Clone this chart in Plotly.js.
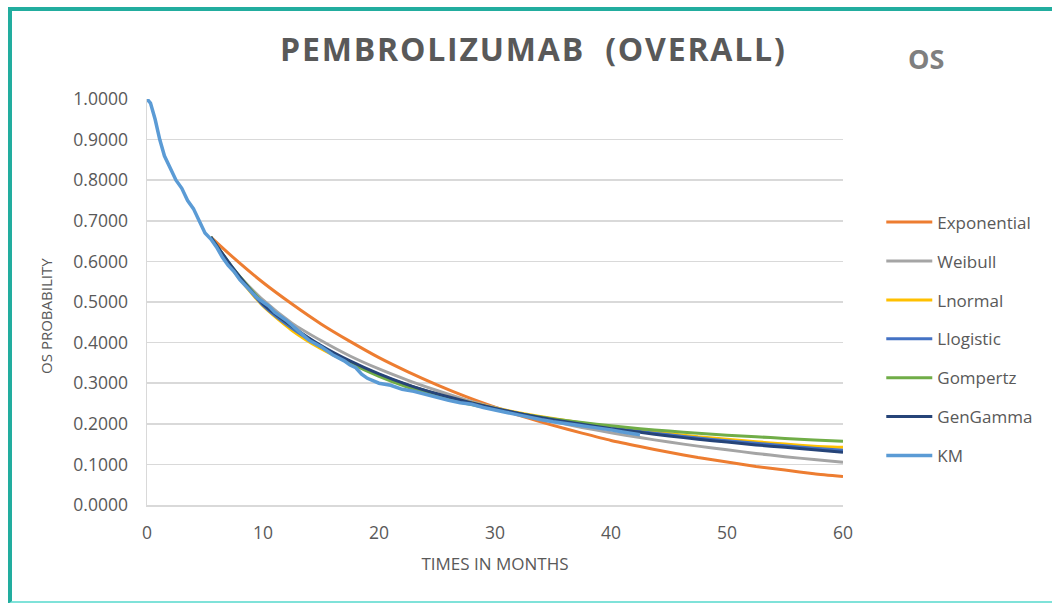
<!DOCTYPE html>
<html>
<head>
<meta charset="utf-8">
<script src="https://cdn.plot.ly/plotly-3.0.1.min.js"></script>
<style>
  html, body { margin:0; padding:0; background:#ffffff; overflow:hidden; }
  #frame { position:absolute; left:8px; top:7px; width:1060px; height:590px;
           border-top:4px solid #22ad9f; border-left:4px solid #22ad9f;
           border-bottom:3px solid #7fe2d9; box-sizing:content-box; }
  #chart { position:absolute; left:0; top:0; width:1052px; height:603px; }
</style>
</head>
<body>
<div id="frame"></div>
<div id="chart"></div>
<script>
// ---- data ----
var modelMonths = [5.5, 7.5, 10, 12.5, 15, 17.5, 20, 22.5, 25, 27.5, 30, 32.5, 35, 37.5, 40, 42.5, 45, 47.5, 50, 52.5, 55, 57.5, 60];

var exponential = [0.660, 0.608, 0.548, 0.495, 0.446, 0.403, 0.363, 0.328, 0.296, 0.267, 0.241, 0.217, 0.196, 0.177, 0.159, 0.144, 0.130, 0.117, 0.106, 0.095, 0.086, 0.077, 0.070];
var weibull     = [0.660, 0.578, 0.505, 0.448, 0.405, 0.367, 0.335, 0.307, 0.282, 0.259, 0.240, 0.222, 0.206, 0.191, 0.178, 0.166, 0.155, 0.145, 0.136, 0.127, 0.119, 0.112, 0.105];
var lnormal     = [0.660, 0.575, 0.490, 0.430, 0.385, 0.350, 0.320, 0.295, 0.273, 0.255, 0.239, 0.225, 0.213, 0.202, 0.192, 0.184, 0.176, 0.168, 0.162, 0.156, 0.150, 0.145, 0.142];
var llogistic   = [0.660, 0.577, 0.492, 0.435, 0.389, 0.352, 0.321, 0.295, 0.273, 0.254, 0.238, 0.223, 0.211, 0.200, 0.190, 0.181, 0.173, 0.165, 0.158, 0.152, 0.146, 0.140, 0.135];
var gompertz    = [0.660, 0.580, 0.498, 0.440, 0.390, 0.350, 0.317, 0.290, 0.268, 0.250, 0.236, 0.223, 0.212, 0.203, 0.195, 0.188, 0.182, 0.177, 0.172, 0.168, 0.164, 0.160, 0.157];
var genGamma    = [0.660, 0.580, 0.495, 0.440, 0.393, 0.355, 0.323, 0.296, 0.274, 0.255, 0.238, 0.223, 0.210, 0.199, 0.188, 0.179, 0.170, 0.162, 0.155, 0.148, 0.142, 0.136, 0.130];

var kmMonths = [0, 0.3, 0.7, 1.1, 1.5, 2.0, 2.5, 3.0, 3.5, 4.0, 4.5, 5.0, 5.5, 6.0, 6.5, 7.0, 7.5, 8.0, 8.5, 9.0, 9.5, 10, 10.5, 11, 12, 13, 14, 15, 16, 17, 17.5, 18, 18.5, 19, 19.5, 20, 21, 22, 23, 24, 25, 26, 27, 28, 29, 30, 31, 32, 33, 34, 35, 36, 37, 38, 39, 40, 41, 42, 42.5];
var kmSurv   = [1.000, 0.990, 0.950, 0.900, 0.860, 0.830, 0.800, 0.780, 0.750, 0.730, 0.700, 0.670, 0.655, 0.635, 0.610, 0.590, 0.575, 0.555, 0.540, 0.525, 0.510, 0.500, 0.490, 0.475, 0.455, 0.430, 0.405, 0.390, 0.370, 0.355, 0.345, 0.338, 0.322, 0.312, 0.306, 0.300, 0.295, 0.285, 0.280, 0.272, 0.265, 0.258, 0.252, 0.248, 0.240, 0.233, 0.228, 0.222, 0.215, 0.210, 0.205, 0.200, 0.197, 0.193, 0.190, 0.185, 0.180, 0.176, 0.173];

var seriesNames  = ["Exponential", "Weibull", "Lnormal", "Llogistic", "Gompertz", "GenGamma"];
var seriesValues = [exponential, weibull, lnormal, llogistic, gompertz, genGamma];
var seriesColors = ["#ED7D31", "#A5A5A5", "#FFC000", "#4472C4", "#70AD47", "#264478"];
var kmColor = "#5B9BD5";

var yTickVals = [0, 0.1, 0.2, 0.3, 0.4, 0.5, 0.6, 0.7, 0.8, 0.9, 1.0];
var xTickVals = [0, 10, 20, 30, 40, 50, 60];

var textGray = "#595959";
var FONT = "Open Sans, Liberation Sans, sans-serif";

var traces = seriesNames.map(function (name, i) {
  return {
    x: modelMonths, y: seriesValues[i], name: name, type: "scatter", mode: "lines",
    line: { color: seriesColors[i], width: 3, shape: "spline", smoothing: 0.6 },
    legendgroup: "g" + i, hoverinfo: "skip"
  };
});
traces.push({
  x: kmMonths, y: kmSurv, name: "KM", type: "scatter", mode: "lines",
  line: { color: kmColor, width: 3.5 }, legendgroup: "gkm", hoverinfo: "skip"
});

var layout = {
  width: 1052, height: 603,
  paper_bgcolor: "rgba(0,0,0,0)", plot_bgcolor: "rgba(0,0,0,0)",
  margin: { l: 147, r: 209, t: 99, b: 98, pad: 0 },
  showlegend: true,
  legend: {
    x: 1.055, xanchor: "left", y: 0.74, yanchor: "top",
    traceorder: "grouped", tracegroupgap: 13.8,
    itemwidth: 46,
    font: { family: FONT, size: 17, color: textGray },
    bgcolor: "rgba(0,0,0,0)"
  },
  title: {
    text: "PEMBROLIZUMAB  (OVERALL)",
    x: 0.507, xanchor: "center", y: 0.917, yanchor: "middle",
    font: { family: FONT, size: 32, color: textGray, weight: 700 }
  },
  annotations: [{
    text: "OS", xref: "paper", yref: "paper", x: 1.09, y: 1.1,
    xanchor: "left", yanchor: "middle", showarrow: false,
    font: { family: FONT, size: 27, color: "#7f7f7f", weight: 700 }
  }, {
    text: "OS PROBABILITY", xref: "paper", yref: "paper", x: -0.145, y: 0.466,
    xanchor: "center", yanchor: "middle", textangle: -90, showarrow: false,
    font: { family: FONT, size: 15, color: textGray }
  }],
  xaxis: {
    range: [0, 60], tickvals: xTickVals, ticktext: xTickVals.map(String),
    showgrid: false, zeroline: false,
    showline: true, linecolor: "#d9d9d9", linewidth: 1.5,
    ticks: "", ticklabelstandoff: 11,
    tickfont: { family: FONT, size: 17.5, color: textGray },
    title: { text: "TIMES IN MONTHS", standoff: 15,
             font: { family: FONT, size: 17, color: textGray } },
    fixedrange: true
  },
  yaxis: {
    range: [0, 1.0], tickvals: yTickVals, tickformat: ".4f",
    showgrid: true, gridcolor: "#d9d9d9", gridwidth: 1.5,
    zeroline: false, showline: true, linecolor: "#d9d9d9", linewidth: 1.5,
    ticks: "", ticklabelstandoff: 14,
    tickfont: { family: FONT, size: 17.5, color: textGray },
    fixedrange: true
  }
};

Plotly.newPlot("chart", traces, layout, { displayModeBar: false, staticPlot: true }).then(function (gd) {
  var t = gd.querySelector(".gtitle");
  if (t) { t.style.letterSpacing = "1.8px"; }
});
</script>
</body>
</html>
